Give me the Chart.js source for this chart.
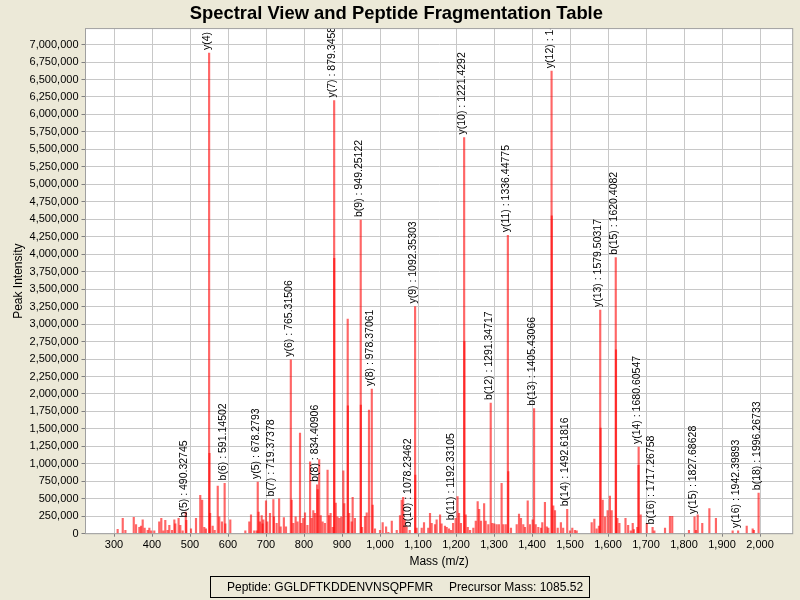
<!DOCTYPE html>
<html>
<head>
<meta charset="utf-8">
<title>Spectral View and Peptide Fragmentation Table</title>
<script src="https://cdn.jsdelivr.net/npm/chart.js@4.4.1/dist/chart.umd.min.js"></script>
<style>
  body { margin: 0; background: #ECE9D8; }
  #wrap { position: relative; width: 800px; height: 600px; }
  #legendBox {
    position: absolute; left: 210px; top: 576px; width: 378px; height: 20px;
    border: 1px solid #000; font: 12px "Liberation Sans", Arial, sans-serif;
    line-height: 20px; white-space: nowrap; color: #000;
  }
  #legendBox span { position: absolute; top: 0; }
</style>
</head>
<body>
<div id="wrap">
  <canvas id="mainChart" width="800" height="600"></canvas>
  <div id="legendBox"><span style="left:16px">Peptide: GGLDFTKDDENVNSQPFMR</span><span style="left:238px">Precursor Mass: 1085.52</span></div>
</div>
<script>
// annotated fragment ions
const ionLabels = ['b(5)', 'y(4)', 'b(6)', 'y(5)', 'b(7)', 'y(6)', 'b(8)', 'y(7)', 'b(9)', 'y(8)',
    'b(10)', 'y(9)', 'b(11)', 'y(10)', 'b(12)', 'y(11)', 'b(13)', 'y(12)', 'b(14)', 'y(13)',
    'b(15)', 'y(14)', 'b(16)', 'y(15)', 'y(16)', 'b(18)'];
const ionMasses = [490.32745, 550.29468, 591.14502, 678.2793, 719.37378, 765.31506, 834.40906, 879.3458, 949.25122, 978.37061,
    1078.23462, 1092.35303, 1192.33105, 1221.4292, 1291.34717, 1336.44775, 1405.43066, 1451.47485, 1492.61816, 1579.50317,
    1620.4082, 1680.60547, 1717.26758, 1827.68628, 1942.39893, 1996.26733];
const ionIntensities = [190000, 6880000, 720000, 740000, 490000, 2490000, 700000, 6200000, 4490000, 2070000,
    50000, 3250000, 150000, 5670000, 1870000, 4270000, 1790000, 6620000, 350000, 3200000,
    3950000, 1240000, 90000, 240000, 40000, 580000];

// other peaks in the spectrum
const peakMasses = [309.6, 323, 330, 352, 358, 366.7, 371, 375.5, 380.7, 388.6, 393, 398, 406, 419, 424.5, 429.8, 435, 441, 445.6, 452.6,
    458.8, 461.4, 470, 474.5, 480.7, 488.9, 502.6, 515.8, 527, 532, 537.6, 542, 551.3, 553, 559.6, 565, 573, 577, 584, 593,
    606, 645.6, 656, 660.5, 669, 675.4, 680.6, 684, 688.6, 691, 693, 700, 703.5, 710.5, 721, 728, 734.5, 738.6, 747, 752.6,
    767.5, 771.9, 778, 783, 789.5, 793, 798, 802.6, 809, 816, 820, 824.5, 829, 836, 840, 844, 849, 855, 862, 866,
    870, 875.5, 879.6, 883.5, 888, 893, 898, 903.5, 906, 915, 915.5, 919, 925.5, 928, 934, 949.6, 953, 960.5, 965, 971,
    980.7, 986.8, 1000, 1007, 1016, 1022, 1031, 1044, 1052.6, 1057, 1061, 1065, 1070, 1092.8, 1096.5, 1109.7, 1115.8, 1127, 1131.6, 1136,
    1144.7, 1149, 1158, 1162, 1171, 1175.5, 1181.6, 1187, 1199, 1204, 1208, 1213, 1222, 1225.5, 1231, 1237, 1245.6, 1252, 1257, 1261,
    1265.8, 1274, 1278, 1285, 1295.6, 1300.8, 1307, 1313, 1320, 1324.6, 1331, 1337.5, 1344.7, 1359.7, 1365.8, 1371, 1377, 1381.6, 1388.7, 1394.7,
    1401.8, 1409.7, 1416.6, 1423.7, 1427, 1434, 1439, 1443, 1452, 1456, 1460.5, 1467.6, 1476, 1482, 1500, 1506, 1513, 1517.6, 1557, 1564,
    1570, 1576, 1580.5, 1586, 1592, 1599, 1605, 1609.6, 1621, 1624.6, 1630, 1646, 1653, 1660, 1665, 1668, 1677, 1680.2, 1686, 1702,
    1722, 1750, 1763, 1769, 1813, 1831.6, 1836, 1848, 1866.7, 1884, 1928, 1965, 1980.7, 1984];
const peakIntensities = [63000, 220000, 50000, 235000, 130000, 90000, 110000, 200000, 80000, 50000, 80000, 40000, 40000, 170000, 220000, 40000, 190000, 50000, 120000, 50000,
    200000, 140000, 220000, 120000, 40000, 310000, 70000, 220000, 550000, 480000, 90000, 70000, 1150000, 290000, 110000, 50000, 680000, 240000, 170000, 140000,
    200000, 40000, 170000, 270000, 40000, 40000, 310000, 170000, 260000, 140000, 200000, 470000, 170000, 290000, 240000, 150000, 500000, 100000, 230000, 100000,
    480000, 150000, 240000, 170000, 1440000, 150000, 220000, 300000, 120000, 1030000, 220000, 330000, 290000, 630000, 1060000, 260000, 170000, 150000, 910000, 260000,
    290000, 90000, 3940000, 440000, 240000, 220000, 240000, 900000, 430000, 3070000, 1830000, 290000, 170000, 520000, 220000, 1840000, 90000, 250000, 300000, 1770000,
    410000, 70000, 50000, 160000, 100000, 20000, 180000, 50000, 260000, 480000, 520000, 200000, 100000, 840000, 80000, 80000, 160000, 80000, 290000, 150000,
    130000, 200000, 270000, 140000, 110000, 90000, 70000, 50000, 220000, 530000, 290000, 150000, 2750000, 270000, 90000, 50000, 80000, 180000, 460000, 350000,
    180000, 430000, 180000, 130000, 150000, 140000, 130000, 130000, 720000, 130000, 130000, 890000, 80000, 130000, 280000, 220000, 130000, 90000, 470000, 130000,
    200000, 130000, 90000, 80000, 160000, 450000, 100000, 80000, 4550000, 400000, 330000, 80000, 160000, 80000, 40000, 80000, 50000, 40000, 160000, 210000,
    70000, 110000, 1510000, 480000, 240000, 330000, 540000, 330000, 2630000, 220000, 150000, 220000, 120000, 40000, 150000, 60000, 90000, 980000, 270000, 150000,
    40000, 80000, 250000, 250000, 50000, 50000, 270000, 150000, 360000, 220000, 40000, 110000, 70000, 50000];

// axis tick positions
const xTickValues = [];
for (let v = 300; v <= 2000; v += 100) xTickValues.push(v);
const yTickValues = [];
for (let v = 0; v <= 7000000; v += 250000) yTickValues.push(v);

const FONT = '"Liberation Sans", Arial, sans-serif';
const peakColor = 'rgba(255, 0, 0, 0.6)';

// white plot background + grey outline, like the original plot
const plotFrame = {
    id: 'plotFrame',
    beforeDraw(chart) {
        const { ctx, chartArea: a } = chart;
        ctx.save();
        ctx.fillStyle = '#FFFFFF';
        ctx.fillRect(a.left, a.top, a.width, a.height);
        ctx.restore();
    },
    afterDraw(chart) {
        const { ctx, chartArea: a } = chart;
        ctx.save();
        ctx.strokeStyle = '#A0A0A0';
        ctx.lineWidth = 1;
        ctx.strokeRect(a.left, a.top, a.width, a.height);
        ctx.restore();
    }
};

// vertical ion labels above annotated peaks
const peakLabels = {
    id: 'peakLabels',
    afterDatasetsDraw(chart) {
        const { ctx, chartArea: a, scales: { x, y } } = chart;
        ctx.save();
        ctx.beginPath();
        ctx.rect(a.left, a.top, a.width, a.height);
        ctx.clip();
        ctx.font = '10.5px ' + FONT;
        ctx.fillStyle = '#000000';
        ctx.textAlign = 'left';
        ctx.textBaseline = 'alphabetic';
        ionLabels.forEach((lab, i) => {
            const px = x.getPixelForValue(ionMasses[i]);
            const py = y.getPixelForValue(ionIntensities[i]);
            ctx.save();
            ctx.translate(px + 1, py - 3);
            ctx.rotate(-Math.PI / 2);
            ctx.fillText(lab + ' : ' + ionMasses[i], 0, 0);
            ctx.restore();
        });
        ctx.restore();
    }
};

document.addEventListener('DOMContentLoaded', () => {
    const ctx = document.getElementById('mainChart').getContext('2d');

    new Chart(ctx, {
        type: 'bar',
        data: {
            datasets: [{
                label: 'Peaks',
                data: peakMasses.map((m, i) => ({ x: m, y: peakIntensities[i] })),
                backgroundColor: peakColor,
                barThickness: 1.5,
                grouped: false
            }, {
                label: 'Ions',
                data: ionMasses.map((m, i) => ({ x: m, y: ionIntensities[i] })),
                backgroundColor: peakColor,
                barThickness: 1.5,
                grouped: false
            }]
        },
        options: {
            responsive: false,
            animation: false,
            layout: {
                padding: { left: 0, right: 7.3, top: 0, bottom: 30.8 }
            },
            plugins: {
                legend: { display: false },
                tooltip: { enabled: false },
                title: {
                    display: true,
                    text: 'Spectral View and Peptide Fragmentation Table',
                    color: '#000000',
                    font: { size: 18.4, weight: 'bold', family: FONT },
                    padding: { top: 3, bottom: 3.5 }
                }
            },
            scales: {
                x: {
                    type: 'linear',
                    min: 225,
                    max: 2086,
                    offset: false,
                    afterBuildTicks: (s) => { s.ticks = xTickValues.map(v => ({ value: v })); },
                    afterFit: (s) => { s.height = 35.5; },
                    border: { display: false },
                    grid: {
                        offset: false,
                        color: '#C8C8C8',
                        borderDash: [2, 2],
                        tickColor: '#808080',
                        tickBorderDash: [],
                        tickLength: 3
                    },
                    ticks: {
                        color: '#000000',
                        padding: 2,
                        maxRotation: 0,
                        autoSkip: false,
                        font: { size: 11, family: FONT },
                        callback: (v) => v.toLocaleString('en-US')
                    },
                    title: {
                        display: true,
                        text: 'Mass (m/z)',
                        color: '#000000',
                        font: { size: 12, family: FONT },
                        padding: 0
                    }
                },
                y: {
                    min: 0,
                    max: 7229000,
                    afterBuildTicks: (s) => { s.ticks = yTickValues.map(v => ({ value: v })); },
                    afterFit: (s) => { s.width = 85.5; },
                    border: { display: false },
                    grid: {
                        color: '#C8C8C8',
                        borderDash: [2, 2],
                        tickColor: '#808080',
                        tickBorderDash: [],
                        tickLength: 4
                    },
                    ticks: {
                        color: '#000000',
                        padding: 3,
                        autoSkip: false,
                        font: { size: 11, family: FONT },
                        callback: (v) => v.toLocaleString('en-US')
                    },
                    title: {
                        display: true,
                        text: 'Peak Intensity',
                        color: '#000000',
                        font: { size: 12, family: FONT },
                        padding: { top: 11, bottom: 0 }
                    }
                }
            }
        },
        plugins: [plotFrame, peakLabels]
    });
});
</script>
</body>
</html>
